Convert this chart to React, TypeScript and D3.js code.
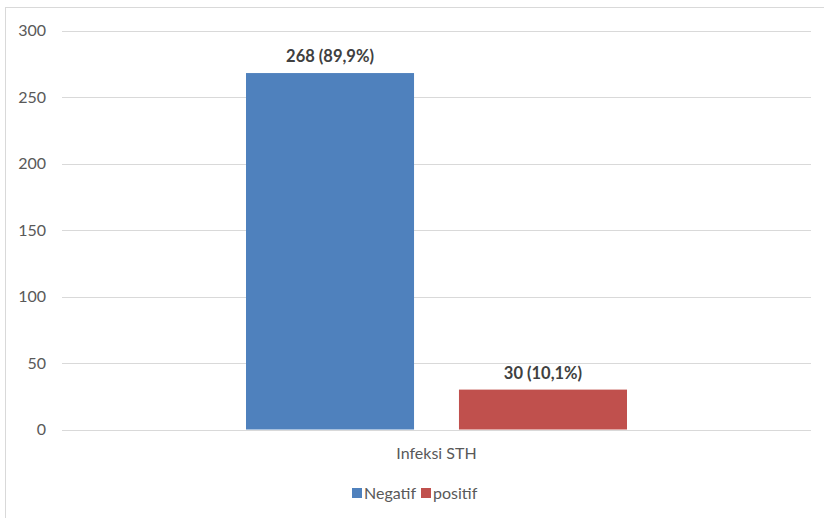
import React from "react";
import * as d3 from "d3";

const categories = ["Infeksi STH"];
const seriesNames = ["Negatif", "positif"];
const seriesValues = [268, 30];
const seriesLabels = ["268 (89,9%)", "30 (10,1%)"];
const seriesColors = ["#4f81bd", "#c0504d"];
const yTicks = [0, 50, 100, 150, 200, 250, 300];

const W = 824;
const H = 518;
const FONT = "Lato, 'Open Sans', sans-serif";

export default function App() {
  const x0 = d3.scaleBand<string>().domain(categories).range([62, 811]);
  const x1 = d3
    .scaleBand<string>()
    .domain(seriesNames)
    .range([0, x0.bandwidth()])
    .paddingInner(0.211)
    .paddingOuter(0.864);
  const y = d3.scaleLinear().domain([0, 300]).range([429.5, 30.5]);

  return (
    <div style={{ position: "absolute", left: 0, top: 0 }}>
      <svg width={W} height={H} style={{ display: "block" }}>
        <rect x={0} y={0} width={W} height={H} fill="#ffffff" />
        <rect x={5.5} y={7.5} width={W + 10} height={H + 10} fill="none" stroke="#d9d9d9" strokeWidth={1} />
        {yTicks.map((t) => (
          <g key={t}>
            <line x1={62} x2={811} y1={Math.round(y(t)) + 0.5} y2={Math.round(y(t)) + 0.5} stroke="#d9d9d9" strokeWidth={1} />
            <text x={46} y={y(t)} dy="0.35em" textAnchor="end" fontFamily={FONT} fontSize={16} fill="#595959">
              {t}
            </text>
          </g>
        ))}
        {categories.map((c) => (
          <g key={c}>
            {seriesNames.map((s, i) => {
              const bx = (x0(c) as number) + (x1(s) as number);
              const by = y(seriesValues[i]);
              return (
                <g key={s}>
                  <rect x={bx} y={by} width={x1.bandwidth()} height={y(0) - by} fill={seriesColors[i]} />
                  <text
                    x={bx + x1.bandwidth() / 2}
                    y={by - 11}
                    textAnchor="middle"
                    fontFamily={FONT}
                    fontWeight="bold"
                    fontSize={16.5}
                    fill="#404040"
                  >
                    {seriesLabels[i]}
                  </text>
                </g>
              );
            })}
            <text
              x={(x0(c) as number) + x0.bandwidth() / 2}
              y={459}
              textAnchor="middle"
              fontFamily={FONT}
              fontSize={16}
              fill="#595959"
            >
              {c}
            </text>
          </g>
        ))}
        <g>
          <rect x={352} y={488} width={10} height={10} fill={seriesColors[0]} />
          <text x={364} y={498.5} fontFamily={FONT} fontSize={16} fill="#595959">
            {seriesNames[0]}
          </text>
          <rect x={421} y={488} width={10} height={10} fill={seriesColors[1]} />
          <text x={433} y={498.5} fontFamily={FONT} fontSize={16} fill="#595959">
            {seriesNames[1]}
          </text>
        </g>
      </svg>
    </div>
  );
}
